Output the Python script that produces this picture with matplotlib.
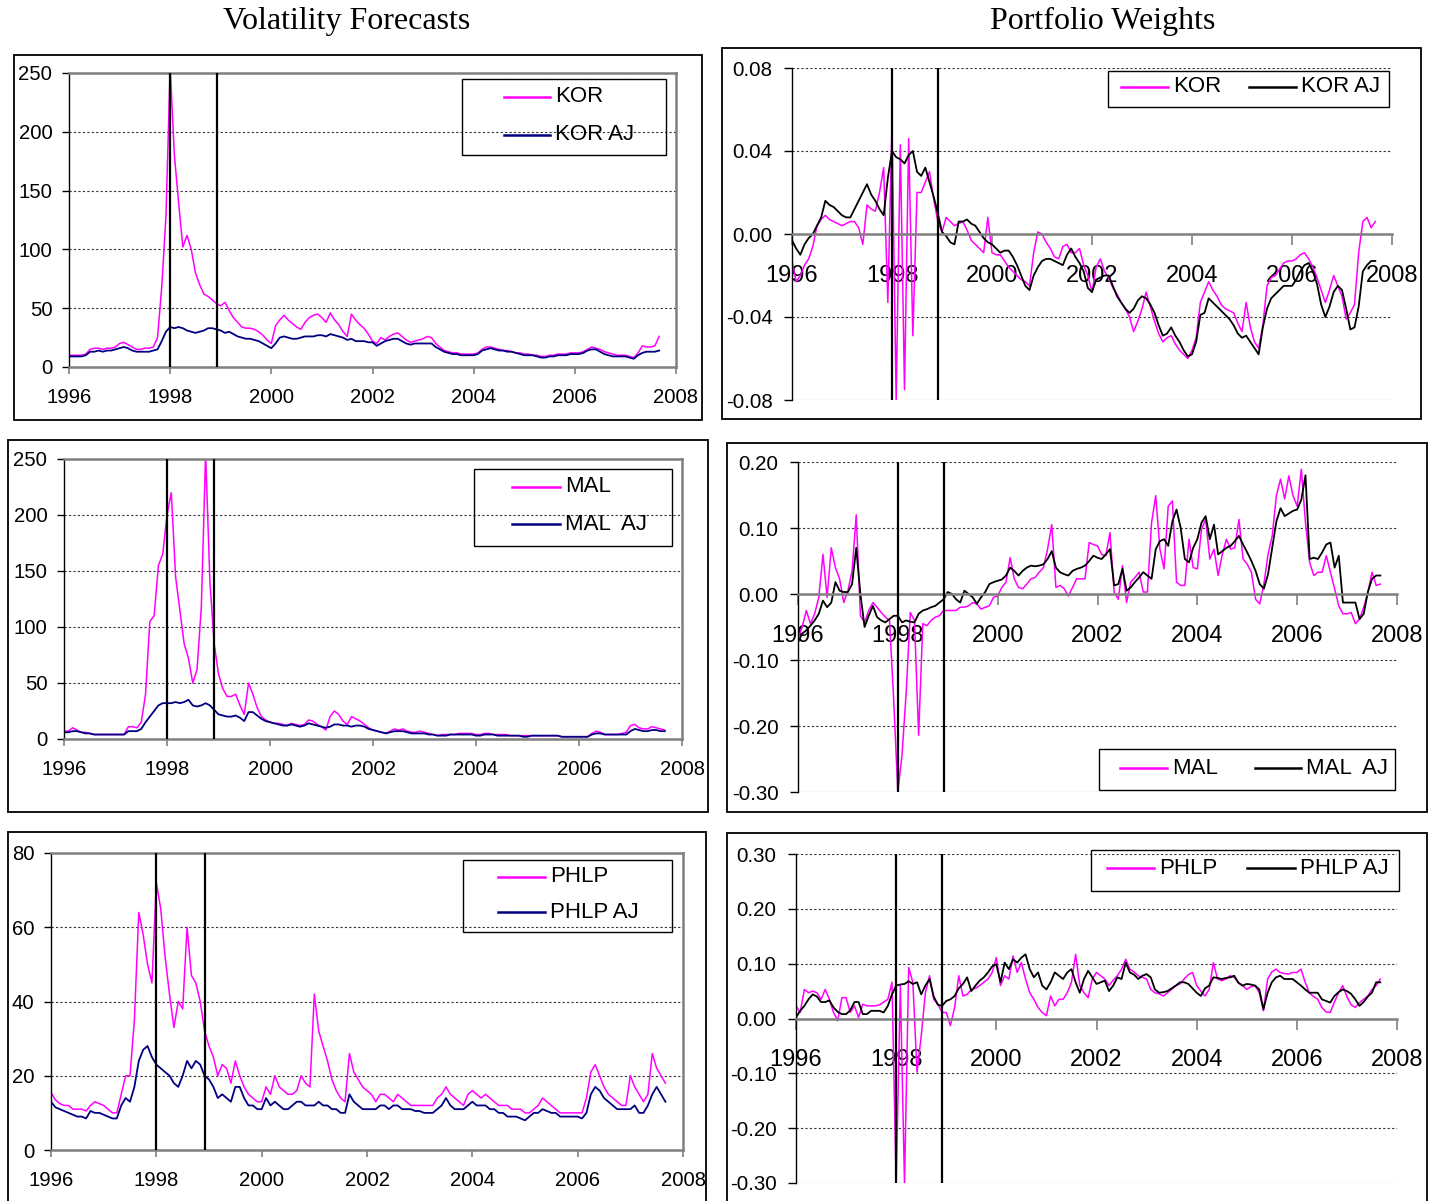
import numpy as np
import matplotlib
matplotlib.use('Agg')
import matplotlib.pyplot as plt
from matplotlib.patches import Rectangle
from matplotlib.lines import Line2D
from matplotlib.ticker import FormatStrFormatter

plt.rcParams['font.family'] = 'Liberation Sans'
plt.rcParams['axes.unicode_minus'] = False

W, H = 1429, 1201

# monthly observations, Jan 1996 .. Sep 2007
years = 1996 + np.arange(141) / 12.0
crisis_lines = [1998.0, 1998.92]
x_ticks = [1996, 1998, 2000, 2002, 2004, 2006, 2008]

# ---- volatility forecasts ----
kor_vol = [
    10, 10, 10, 10, 11, 15, 16, 16, 15, 16, 16, 17,
    20, 21, 19, 17, 15, 15, 16, 16, 17, 25, 68, 128,
    255, 180, 140, 102, 112, 100, 80, 70, 62, 60, 57, 54,
    52, 55, 48, 42, 38, 34, 33, 33, 32, 30, 27, 23,
    20, 35, 40, 44, 40, 37, 34, 32, 38, 42, 44, 45,
    42, 38, 46, 40, 36, 30, 26, 45, 40, 36, 33, 28,
    22, 20, 25, 23, 26, 28, 29, 26, 23, 21, 22, 23,
    24, 26, 25, 20, 17, 14, 13, 12, 12, 11, 11, 11,
    11, 12, 15, 17, 17, 16, 15, 14, 14, 13, 12, 12,
    11, 11, 10, 10, 9, 9, 10, 10, 11, 11, 11, 12,
    12, 12, 13, 15, 17, 16, 15, 13, 12, 11, 10, 10,
    10, 9, 8, 12, 18, 17, 17, 18, 26]
kor_vol_aj = [
    9, 9, 9, 9, 10, 13, 13, 14, 13, 14, 14, 15,
    16, 17, 16, 14, 13, 13, 13, 13, 14, 15, 22, 30,
    34, 33, 34, 33, 31, 30, 29, 30, 31, 33, 33, 32,
    31, 29, 30, 28, 26, 25, 24, 24, 23, 22, 20, 18,
    16, 20, 25, 26, 25, 24, 24, 25, 26, 26, 26, 27,
    27, 26, 28, 27, 26, 25, 23, 24, 22, 22, 22, 21,
    21, 18, 20, 22, 23, 24, 24, 22, 20, 19, 20, 20,
    20, 20, 20, 17, 15, 13, 12, 11, 11, 10, 10, 10,
    10, 11, 14, 15, 16, 15, 14, 14, 13, 13, 12, 11,
    10, 10, 10, 9, 8, 8, 9, 9, 10, 10, 10, 11,
    11, 11, 12, 14, 15, 15, 13, 11, 10, 9, 9, 9,
    9, 8, 7, 10, 12, 13, 13, 13, 14]

mal_vol = [
    7, 7, 10, 8, 6, 6, 5, 4, 4, 4, 4, 4,
    4, 4, 4, 11, 11, 10, 15, 40, 105, 110, 155, 165,
    200, 220, 145, 115, 85, 72, 50, 62, 118, 255, 140, 85,
    58, 45, 38, 38, 40, 30, 22, 50, 40, 28, 20, 17,
    15, 14, 14, 13, 12, 14, 13, 12, 13, 17, 16, 13,
    11, 8, 20, 25, 22, 16, 13, 20, 18, 16, 13, 10,
    8, 7, 6, 5, 7, 9, 8, 9, 7, 6, 6, 7,
    6, 5, 4, 3, 4, 4, 4, 4, 5, 5, 5, 5,
    4, 4, 5, 5, 4, 4, 4, 4, 3, 3, 3, 3,
    3, 3, 3, 3, 3, 3, 3, 3, 2, 2, 2, 2,
    2, 2, 2, 5, 7, 6, 4, 4, 4, 4, 5, 6,
    12, 13, 10, 9, 9, 11, 10, 9, 8]
mal_vol_aj = [
    6, 6, 7, 7, 6, 5, 5, 4, 4, 4, 4, 4,
    4, 4, 4, 7, 7, 7, 9, 15, 20, 25, 30, 32,
    32, 32, 33, 32, 33, 35, 30, 29, 30, 32, 30, 26,
    22, 21, 20, 20, 21, 19, 16, 24, 24, 21, 18, 16,
    15, 14, 13, 12, 12, 13, 12, 11, 12, 14, 13, 12,
    11, 10, 11, 13, 13, 12, 12, 11, 12, 12, 11, 9,
    8, 7, 6, 5, 6, 7, 7, 7, 6, 5, 5, 5,
    5, 4, 4, 3, 3, 3, 4, 4, 4, 4, 4, 4,
    3, 3, 4, 4, 4, 3, 3, 3, 3, 3, 3, 2,
    2, 3, 3, 3, 3, 3, 3, 3, 2, 2, 2, 2,
    2, 2, 2, 4, 5, 5, 4, 4, 4, 4, 4, 4,
    7, 9, 8, 7, 7, 8, 8, 7, 7]

phlp_vol = [
    15.5, 13.5, 12.5, 12, 12, 11, 11, 11, 10.5, 12, 13, 12.5,
    12, 11, 10, 10, 15, 20, 20, 35, 64, 58, 50, 45,
    72, 65, 52, 42, 33, 40, 38, 60, 47, 45, 40, 32,
    28, 25, 20, 23, 22, 18, 24, 20, 17, 15, 14, 13,
    13, 17, 15, 20, 17, 16, 15, 15, 16, 20, 18, 17,
    42, 32, 28, 24, 19, 16, 14, 13, 26, 21, 19, 17,
    16, 15, 13, 15, 15, 14, 13, 15, 14, 13, 12, 12,
    12, 12, 12, 12, 14, 15, 17, 15, 14, 13, 12, 15,
    16, 15, 14, 15, 14, 13, 12, 12, 12, 11, 11, 11,
    10, 10, 11, 12, 14, 13, 12, 11, 10, 10, 10, 10,
    10, 10, 14, 21, 23, 20, 17, 15, 14, 13, 12, 12,
    20, 17, 15, 13, 15, 26, 22, 20, 18]
phlp_vol_aj = [
    13, 11.5, 11, 10.5, 10, 9.5, 9, 9, 8.5, 10.5, 10, 10,
    9.5, 9, 8.5, 8.5, 12, 14, 13, 17, 24, 27, 28, 25,
    23, 22, 21, 20, 18, 17, 20, 24, 22, 24, 23, 20,
    19, 17, 14, 15, 14, 13, 17, 17, 14, 12, 12, 11,
    11, 14, 12, 13, 12, 11, 11, 12, 13, 13, 12, 12,
    12, 13, 12, 12, 11, 11, 10, 10, 15, 13, 12, 11,
    11, 11, 11, 12, 12, 11, 12, 12, 11, 11, 11, 10.5,
    10.5, 10, 10, 10, 11, 12, 14, 12, 11, 11, 11, 12,
    13, 12, 12, 12, 11, 11, 10, 10, 9, 9, 9, 8.5,
    8, 9, 10, 10, 11, 10.5, 10, 10, 9, 9, 9, 9,
    9, 8.5, 10, 15, 17, 16, 14, 13, 12, 11, 11, 11,
    11, 12, 10, 10, 12, 15, 17, 15, 13]

# ---- portfolio weights ----
kor_wt = [
    -0.013, -0.023, -0.020, -0.015, -0.012, -0.006, 0.004, 0.007, 0.009, 0.007, 0.006, 0.005,
    0.004, 0.005, 0.006, 0.006, 0.003, -0.005, 0.014, 0.012, 0.011, 0.020, 0.032, -0.033,
    0.053, -0.080, 0.043, -0.075, 0.046, -0.049, 0.020, 0.020, 0.025, 0.030, 0.017, 0.006,
    0.001, 0.008, 0.006, 0.004, 0.005, 0.006, 0.002, -0.003, -0.005, -0.007, -0.009, 0.008,
    -0.009, -0.010, -0.010, -0.013, -0.016, -0.018, -0.020, -0.022, -0.023, -0.025, -0.009, 0.001,
    0.000, -0.004, -0.007, -0.011, -0.012, -0.006, -0.005, -0.009, -0.009, -0.007, -0.015, -0.020,
    -0.028, -0.016, -0.012, -0.018, -0.021, -0.026, -0.029, -0.033, -0.036, -0.040, -0.047, -0.042,
    -0.036, -0.028, -0.035, -0.042, -0.048, -0.052, -0.050, -0.049, -0.053, -0.056, -0.058, -0.060,
    -0.056, -0.050, -0.033, -0.028, -0.023, -0.027, -0.030, -0.034, -0.036, -0.037, -0.038, -0.043,
    -0.047, -0.033, -0.045, -0.052, -0.055, -0.044, -0.025, -0.021, -0.020, -0.017, -0.014, -0.013,
    -0.013, -0.012, -0.010, -0.009, -0.012, -0.016, -0.021, -0.027, -0.033, -0.027, -0.020, -0.025,
    -0.030, -0.041, -0.038, -0.034, -0.009, 0.006, 0.008, 0.003, 0.006]
kor_wt_aj = [
    -0.003, -0.007, -0.010, -0.005, -0.002, 0.000, 0.004, 0.008, 0.016, 0.014, 0.013, 0.011,
    0.009, 0.008, 0.008, 0.012, 0.016, 0.020, 0.024, 0.019, 0.016, 0.012, 0.009, 0.027,
    0.040, 0.037, 0.036, 0.034, 0.038, 0.040, 0.030, 0.028, 0.032, 0.025, 0.018, 0.010,
    0.001, -0.001, -0.004, -0.005, 0.006, 0.006, 0.007, 0.005, 0.004, 0.001, -0.002, -0.004,
    -0.005, -0.007, -0.009, -0.008, -0.008, -0.011, -0.015, -0.020, -0.025, -0.027, -0.020, -0.016,
    -0.013, -0.012, -0.012, -0.013, -0.014, -0.015, -0.010, -0.007, -0.011, -0.014, -0.018, -0.026,
    -0.028, -0.022, -0.021, -0.020, -0.020, -0.025, -0.030, -0.033, -0.036, -0.038, -0.036, -0.032,
    -0.030, -0.031, -0.034, -0.038, -0.044, -0.049, -0.048, -0.045, -0.049, -0.052, -0.056, -0.059,
    -0.058, -0.052, -0.039, -0.038, -0.031, -0.033, -0.035, -0.037, -0.039, -0.041, -0.044, -0.048,
    -0.050, -0.049, -0.052, -0.055, -0.058, -0.045, -0.036, -0.031, -0.029, -0.027, -0.025, -0.025,
    -0.025, -0.022, -0.018, -0.015, -0.014, -0.018, -0.024, -0.034, -0.040, -0.035, -0.028, -0.025,
    -0.027, -0.036, -0.046, -0.045, -0.035, -0.018, -0.015, -0.013, -0.013]

mal_wt = [
    -0.068, -0.050, -0.025, -0.045, -0.030, -0.005, 0.060, -0.005, 0.070, 0.040, 0.023, -0.013,
    0.005, 0.035, 0.120, -0.033, -0.043, -0.025, -0.013, -0.020, -0.028, -0.035, -0.040, -0.160,
    -0.300, -0.244, -0.150, -0.028, -0.040, -0.214, -0.045, -0.048, -0.040, -0.035, -0.033, -0.025,
    -0.025, -0.025, -0.025, -0.020, -0.020, -0.018, -0.013, -0.015, -0.023, -0.020, -0.018, -0.005,
    -0.003, 0.010, 0.018, 0.055, 0.023, 0.010, 0.008, 0.015, 0.023, 0.025, 0.033, 0.040,
    0.068, 0.105, 0.010, 0.013, 0.008, -0.003, 0.010, 0.023, 0.023, 0.023, 0.078, 0.075,
    0.073, 0.060, 0.058, 0.093, 0.003, -0.008, 0.043, -0.013, 0.018, 0.025, 0.033, 0.003,
    0.003, 0.108, 0.149, 0.068, 0.038, 0.133, 0.141, 0.018, 0.013, 0.013, 0.083, 0.040,
    0.038, 0.098, 0.113, 0.053, 0.068, 0.028, 0.060, 0.083, 0.068, 0.070, 0.113, 0.053,
    0.045, 0.033, -0.008, -0.015, 0.015, 0.060, 0.088, 0.149, 0.174, 0.144, 0.179, 0.149,
    0.133, 0.189, 0.108, 0.048, 0.028, 0.033, 0.033, 0.058, 0.033, 0.008, -0.018, -0.030,
    -0.030, -0.028, -0.045, -0.038, -0.020, 0.003, 0.033, 0.013, 0.015]
mal_wt_aj = [
    -0.073, -0.060, -0.055, -0.048, -0.040, -0.030, -0.010, -0.020, -0.013, 0.018, 0.005, 0.003,
    0.003, 0.015, 0.070, 0.000, -0.050, -0.033, -0.018, -0.035, -0.040, -0.043, -0.038, -0.033,
    -0.033, -0.043, -0.040, -0.042, -0.043, -0.030, -0.025, -0.023, -0.020, -0.018, -0.013, -0.008,
    0.003, 0.000, -0.008, -0.013, 0.005, 0.000, -0.005, -0.015, -0.005, 0.003, 0.015, 0.018,
    0.020, 0.022, 0.028, 0.040, 0.035, 0.028, 0.035, 0.040, 0.043, 0.042, 0.043, 0.045,
    0.053, 0.065, 0.040, 0.033, 0.030, 0.028, 0.035, 0.038, 0.040, 0.043, 0.050, 0.058,
    0.055, 0.053, 0.060, 0.068, 0.013, 0.015, 0.038, 0.005, 0.010, 0.018, 0.025, 0.033,
    0.028, 0.023, 0.068, 0.080, 0.083, 0.073, 0.110, 0.128, 0.100, 0.053, 0.048, 0.070,
    0.083, 0.108, 0.118, 0.083, 0.105, 0.060, 0.065, 0.070, 0.073, 0.080, 0.088, 0.075,
    0.063, 0.050, 0.035, 0.015, 0.008, 0.030, 0.070, 0.110, 0.130, 0.118, 0.122, 0.126,
    0.128, 0.143, 0.180, 0.053, 0.055, 0.053, 0.063, 0.075, 0.078, 0.040, 0.058, -0.013,
    -0.013, -0.013, -0.013, -0.038, -0.030, 0.003, 0.023, 0.028, 0.028]

phlp_wt = [
    0.023, 0.011, 0.053, 0.047, 0.050, 0.047, 0.035, 0.053, 0.035, 0.011, -0.004, 0.038,
    0.038, 0.011, 0.023, 0.002, 0.026, 0.023, 0.023, 0.023, 0.025, 0.030, 0.035, 0.066,
    -0.302, 0.060, -0.302, 0.093, 0.066, -0.098, -0.032, 0.047, 0.078, 0.035, 0.026, 0.011,
    0.011, -0.013, 0.020, 0.078, 0.041, 0.044, 0.053, 0.055, 0.060, 0.066, 0.072, 0.084,
    0.111, 0.060, 0.078, 0.072, 0.114, 0.084, 0.102, 0.072, 0.047, 0.035, 0.020, 0.011,
    0.005, 0.041, 0.023, 0.035, 0.035, 0.047, 0.066, 0.117, 0.060, 0.047, 0.038, 0.072,
    0.084, 0.078, 0.072, 0.060, 0.070, 0.078, 0.090, 0.108, 0.090, 0.085, 0.078, 0.075,
    0.072, 0.053, 0.047, 0.045, 0.041, 0.047, 0.053, 0.060, 0.063, 0.072, 0.080, 0.084,
    0.060, 0.050, 0.041, 0.053, 0.102, 0.072, 0.069, 0.072, 0.078, 0.075, 0.066, 0.060,
    0.053, 0.058, 0.060, 0.047, 0.014, 0.072, 0.085, 0.090, 0.084, 0.082, 0.081, 0.084,
    0.084, 0.090, 0.066, 0.047, 0.040, 0.035, 0.020, 0.012, 0.011, 0.030, 0.047, 0.060,
    0.040, 0.025, 0.020, 0.029, 0.035, 0.041, 0.053, 0.060, 0.072]
phlp_wt_aj = [
    0.002, 0.014, 0.023, 0.035, 0.044, 0.040, 0.030, 0.030, 0.033, 0.020, 0.012, 0.008,
    0.008, 0.015, 0.030, 0.030, 0.008, 0.008, 0.014, 0.014, 0.014, 0.011, 0.023, 0.044,
    0.060, 0.062, 0.063, 0.068, 0.063, 0.066, 0.044, 0.060, 0.072, 0.040, 0.025, 0.023,
    0.032, 0.035, 0.041, 0.055, 0.063, 0.075, 0.050, 0.060, 0.069, 0.075, 0.084, 0.095,
    0.099, 0.066, 0.102, 0.090, 0.108, 0.102, 0.111, 0.117, 0.090, 0.075, 0.084, 0.060,
    0.053, 0.066, 0.084, 0.078, 0.072, 0.084, 0.090, 0.066, 0.047, 0.072, 0.087, 0.075,
    0.063, 0.066, 0.069, 0.050, 0.060, 0.075, 0.072, 0.102, 0.084, 0.080, 0.072, 0.078,
    0.081, 0.075, 0.053, 0.047, 0.048, 0.050, 0.055, 0.060, 0.066, 0.066, 0.063, 0.055,
    0.047, 0.041, 0.055, 0.060, 0.075, 0.074, 0.072, 0.074, 0.075, 0.078, 0.065, 0.060,
    0.063, 0.062, 0.060, 0.053, 0.017, 0.047, 0.066, 0.075, 0.078, 0.072, 0.072, 0.072,
    0.066, 0.060, 0.053, 0.047, 0.047, 0.047, 0.035, 0.032, 0.029, 0.041, 0.048, 0.053,
    0.050, 0.045, 0.035, 0.023, 0.030, 0.040, 0.047, 0.066, 0.066]

MAGENTA = '#FF00FF'
NAVY = '#000080'
GRAY = '#808080'

fig = plt.figure(figsize=(W / 100, H / 100), dpi=100)


def box(x0, y0, x1, y1, lw=1.3):
    fig.add_artist(Rectangle((x0 / W, 1 - y1 / H), (x1 - x0) / W, (y1 - y0) / H,
                             transform=fig.transFigure, fill=False, ec='black', lw=lw))


def add_ax(left, top, right, bottom):
    return fig.add_axes([left / W, 1 - bottom / H, (right - left) / W, (bottom - top) / H])


def legend_entry(x0, x1, y, label, color):
    fig.add_artist(Line2D([x0 / W, x1 / W], [1 - y / H] * 2, transform=fig.transFigure,
                          color=color, lw=1.8))
    fig.text((x1 + 5) / W, 1 - y / H, label, fontsize=16, va='center', ha='left')


def draw_series(ax, main, adj, adj_color):
    ax.plot(years, main, color=MAGENTA, lw=1.1, zorder=2)
    ax.plot(years, adj, color=adj_color, lw=1.3, zorder=2)
    for x in crisis_lines:
        ax.axvline(x, color='black', lw=1.6, zorder=3)


def style_vol(ax, ymax, step):
    ax.set_xlim(1996, 2008)
    ax.set_ylim(0, ymax)
    ax.set_xticks(x_ticks)
    ax.set_yticks(np.arange(0, ymax + 1, step))
    ax.set_axisbelow(True)
    ax.grid(axis='y', color='#333333', ls=(0, (2, 2)), lw=0.8)
    for s in ['top', 'right', 'bottom']:
        ax.spines[s].set_color(GRAY)
        ax.spines[s].set_linewidth(1.8)
    ax.spines['left'].set_color('black')
    ax.spines['left'].set_linewidth(1.0)
    ax.tick_params(axis='x', length=5, width=1.2, color=GRAY, pad=10, labelsize=14.6)
    ax.tick_params(axis='y', length=5, width=1.0, pad=7, labelsize=14.6)


def style_wt(ax, ylo, yhi, step):
    ax.set_xlim(1996, 2008)
    ax.set_ylim(ylo, yhi)
    ax.set_xticks(x_ticks)
    ax.set_yticks(np.arange(ylo, yhi + step / 2, step))
    ax.yaxis.set_major_formatter(FormatStrFormatter('%.2f'))
    ax.set_axisbelow(True)
    ax.grid(axis='y', color='#333333', ls=(0, (2, 2)), lw=0.8)
    ax.spines['top'].set_visible(False)
    ax.spines['right'].set_visible(False)
    ax.spines['bottom'].set_position(('data', 0))
    ax.spines['bottom'].set_color(GRAY)
    ax.spines['bottom'].set_linewidth(1.8)
    ax.spines['left'].set_color('black')
    ax.spines['left'].set_linewidth(1.0)
    ax.tick_params(axis='x', length=8, width=1.2, color=GRAY, pad=14, labelsize=17)
    ax.tick_params(axis='y', length=6, width=1.0, pad=8, labelsize=14.8)


# titles
fig.text(347 / W, 1 - 21 / H, 'Volatility Forecasts', family='Liberation Serif',
         fontsize=23, ha='center', va='center')
fig.text(1103 / W, 1 - 21 / H, 'Portfolio Weights', family='Liberation Serif',
         fontsize=23, ha='center', va='center')

# ---- left column: volatility ----
box(14, 55, 702, 420)
ax = add_ax(69, 73, 676, 367)
draw_series(ax, kor_vol, kor_vol_aj, NAVY)
style_vol(ax, 250, 50)
box(462, 79, 666, 155, lw=1.0)
legend_entry(504, 550, 97, 'KOR', MAGENTA)
legend_entry(504, 550, 135, 'KOR AJ', NAVY)

box(8, 440, 708, 812)
ax = add_ax(64, 459, 682, 739)
draw_series(ax, mal_vol, mal_vol_aj, NAVY)
style_vol(ax, 250, 50)
box(474, 469, 672, 546, lw=1.0)
legend_entry(512, 560, 487, 'MAL', MAGENTA)
legend_entry(512, 560, 524, 'MAL  AJ', NAVY)

box(8, 832, 706, 1215)
ax = add_ax(51, 853, 683, 1150)
draw_series(ax, phlp_vol, phlp_vol_aj, NAVY)
style_vol(ax, 80, 20)
box(463, 860, 672, 932, lw=1.0)
legend_entry(498, 545, 877, 'PHLP', MAGENTA)
legend_entry(498, 545, 912, 'PHLP AJ', NAVY)

# ---- right column: weights ----
box(722, 48, 1421, 419)
ax = add_ax(792, 68, 1392, 400)
draw_series(ax, kor_wt, kor_wt_aj, 'black')
style_wt(ax, -0.08, 0.08, 0.04)
box(1108, 71, 1389, 107, lw=1.0)
legend_entry(1121, 1168, 87, 'KOR', MAGENTA)
legend_entry(1249, 1296, 87, 'KOR AJ', 'black')

box(727, 443, 1427, 812)
ax = add_ax(798, 462, 1397, 792)
draw_series(ax, mal_wt, mal_wt_aj, 'black')
style_wt(ax, -0.30, 0.20, 0.10)
box(1099, 749, 1395, 790, lw=1.0)
legend_entry(1120, 1167, 768, 'MAL', MAGENTA)
legend_entry(1255, 1301, 768, 'MAL  AJ', 'black')

box(727, 833, 1427, 1215)
ax = add_ax(796, 854, 1397, 1183)
draw_series(ax, phlp_wt, phlp_wt_aj, 'black')
style_wt(ax, -0.30, 0.30, 0.10)
box(1091, 850, 1399, 891, lw=1.0)
legend_entry(1107, 1154, 868, 'PHLP', MAGENTA)
legend_entry(1247, 1295, 868, 'PHLP AJ', 'black')

fig.savefig('out.png', dpi=100, facecolor='white')
